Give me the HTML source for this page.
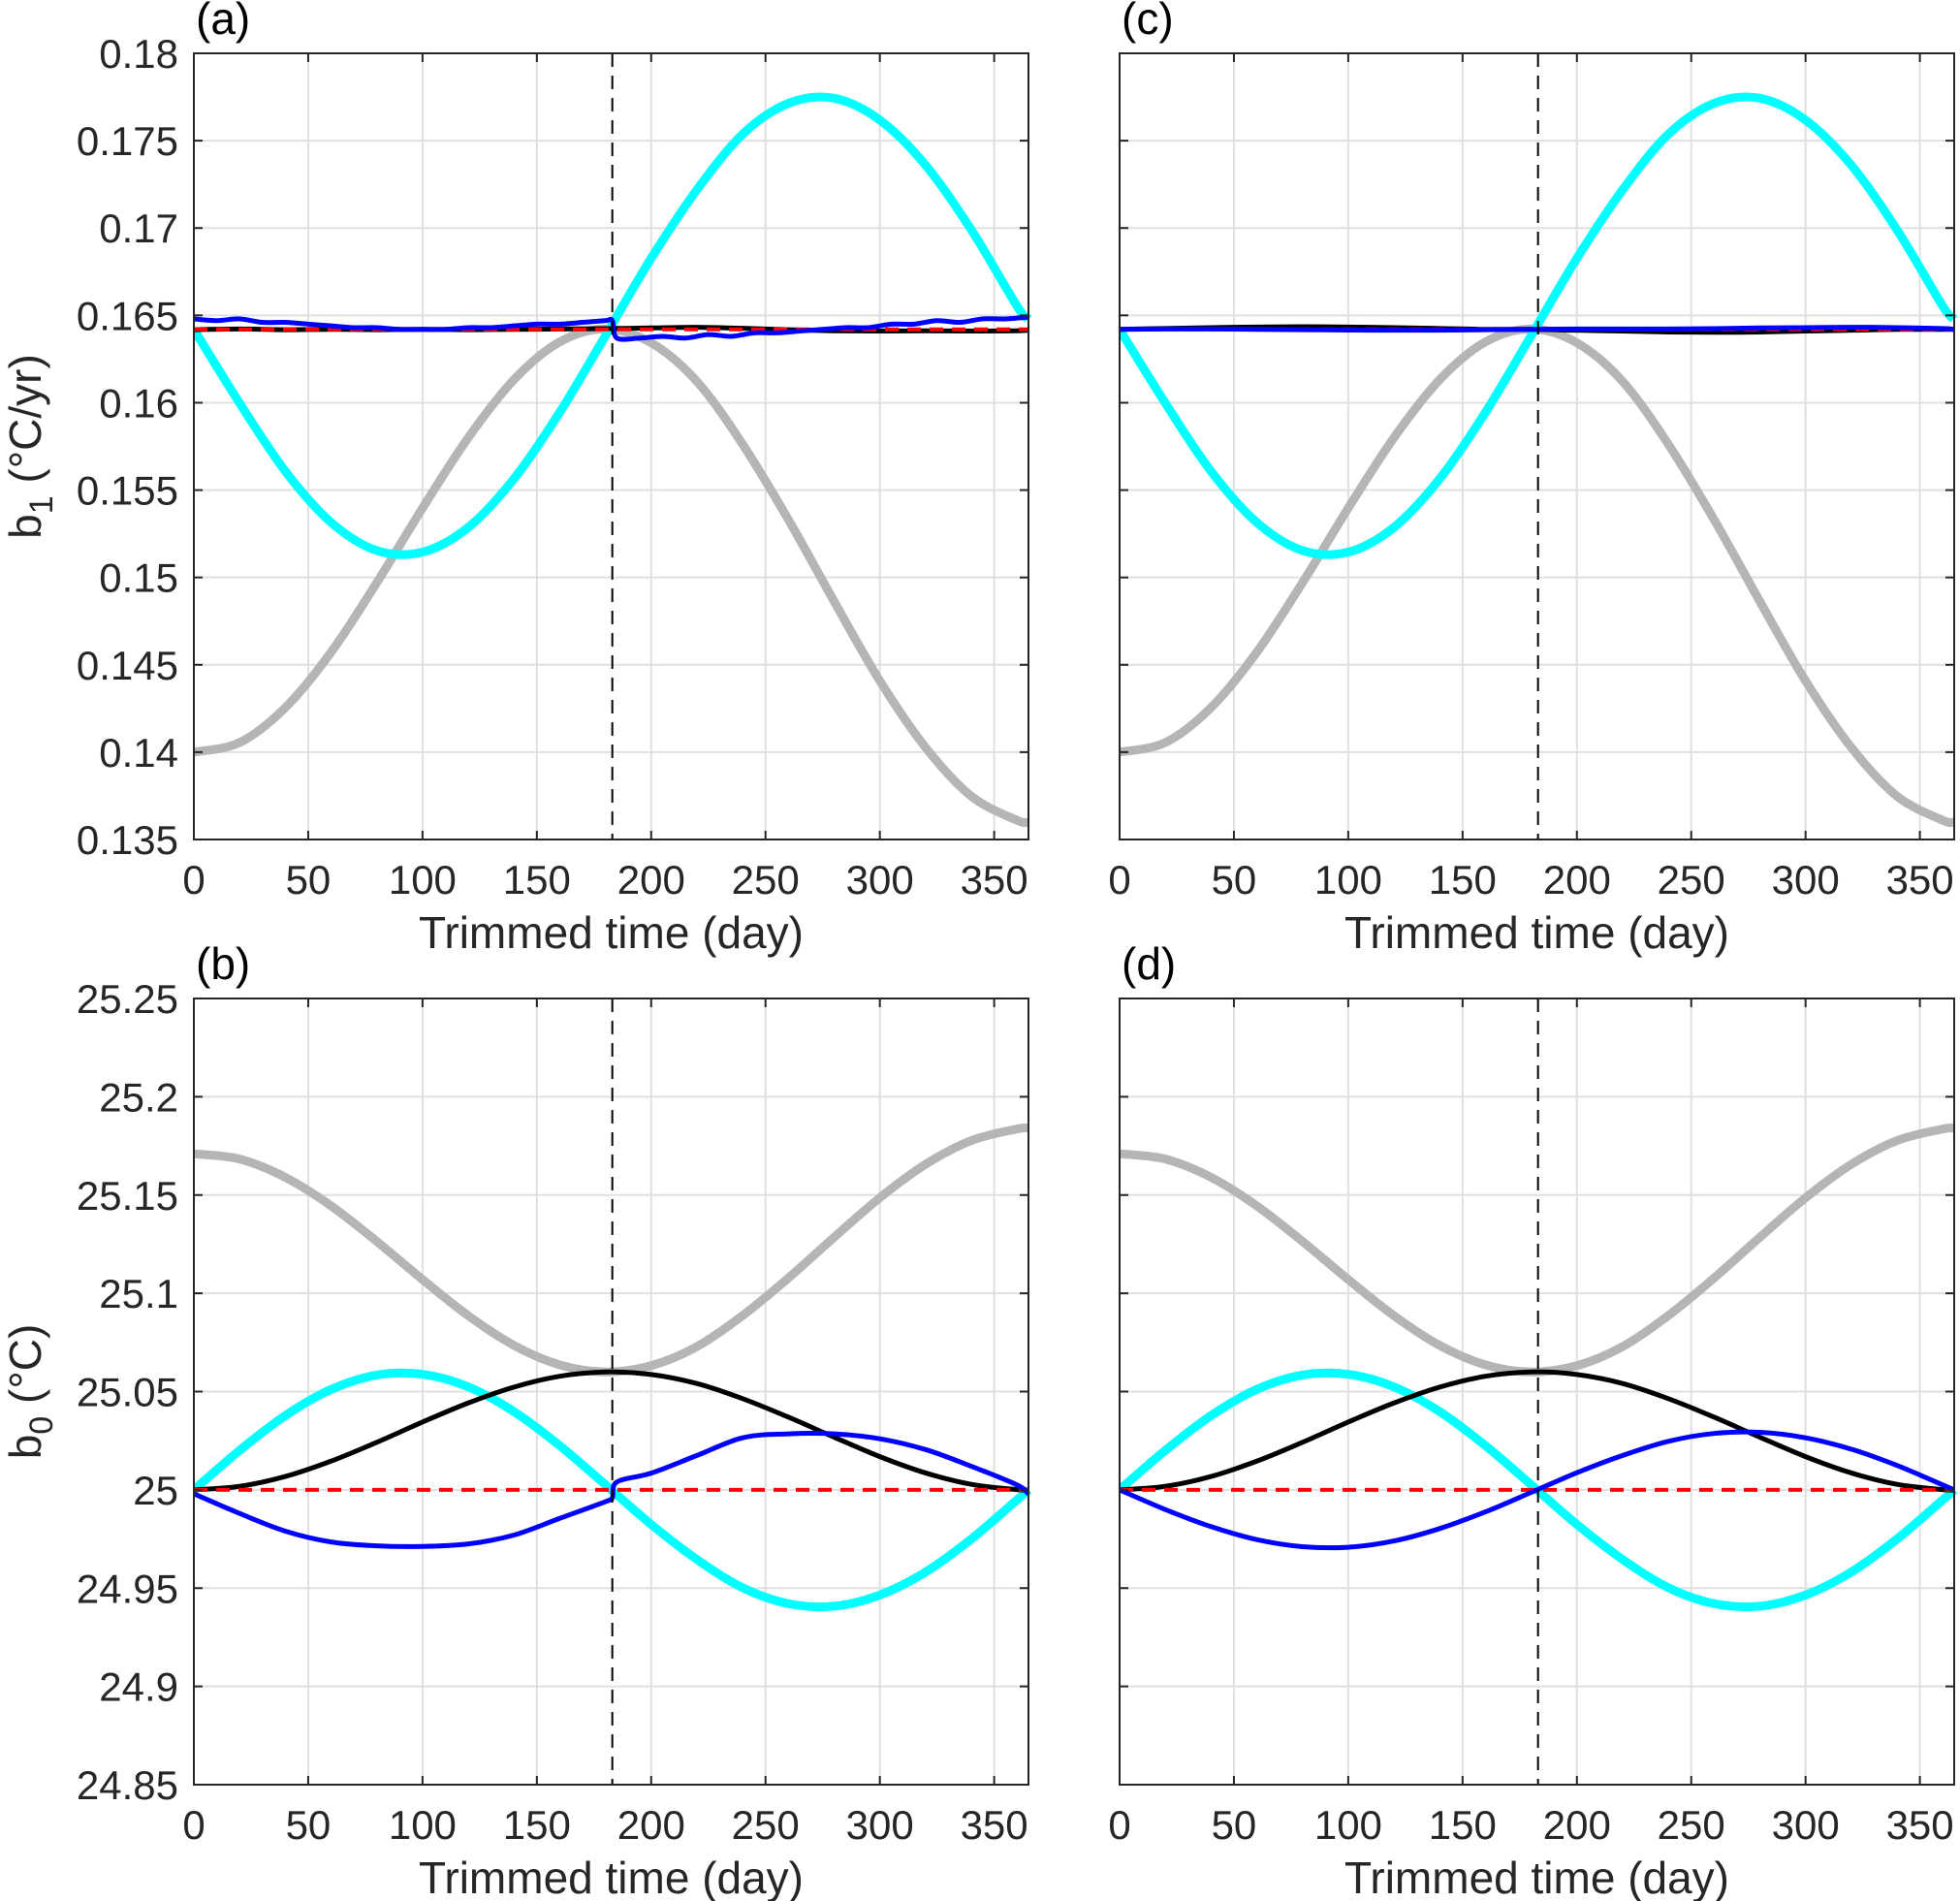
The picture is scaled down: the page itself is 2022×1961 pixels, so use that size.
<!DOCTYPE html>
<html><head><meta charset="utf-8"><style>
html,body{margin:0;padding:0;background:#fff;}
svg{display:block;font-family:"Liberation Sans",Arial,sans-serif;}
</style></head><body>
<svg id="fig" width="2022" height="1961" viewBox="0 0 2022 1961" xmlns="http://www.w3.org/2000/svg"></svg>
<script>
// ---- data ----
const days = [0,20,40,60,80,100,120,140,160,180,200,220,240,260,280,300,320,340,360,365];
const xTicks = [0,50,100,150,200,250,300,350];
const b1Ticks = [0.135,0.14,0.145,0.15,0.155,0.16,0.165,0.17,0.175,0.18];
const b1TickLabels = ["0.135","0.14","0.145","0.15","0.155","0.16","0.165","0.17","0.175","0.18"];
const b0Ticks = [24.85,24.9,24.95,25,25.05,25.1,25.15,25.2,25.25];
const b0TickLabels = ["24.85","24.9","24.95","25","25.05","25.1","25.15","25.2","25.25"];
const midDay = 183;

const grayB1 = [0.1400,0.14055,0.14255,0.14572,0.1497,0.15397,0.158,0.16132,0.16348,0.16422,0.16343,0.16122,0.15762,0.15331,0.14863,0.14408,0.14027,0.13748,0.1361,0.1360];
const cyanB1 = [0.1642,0.15998,0.15608,0.15315,0.15154,0.15145,0.15287,0.15565,0.15945,0.16384,0.16827,0.17219,0.17537,0.17714,0.17743,0.17618,0.1736,0.1699,0.16553,0.1648];
const redB1 = [0.1642,0.1642,0.1642,0.1642,0.1642,0.1642,0.1642,0.1642,0.1642,0.1642,0.1642,0.1642,0.1642,0.1642,0.1642,0.1642,0.1642,0.1642,0.1642,0.1642];
const blackB1a = [0.16418,0.16422,0.16418,0.16420,0.16418,0.16420,0.16418,0.16420,0.16422,0.16424,0.16428,0.16432,0.16426,0.16418,0.16412,0.16410,0.16412,0.16410,0.16412,0.16415];
const blueB1aDays = [0,10,20,30,40,50,60,70,80,90,100,110,120,130,140,150,160,170,180,183,185,195,205,215,225,235,245,255,265,275,285,295,305,315,325,335,345,355,365];
const blueB1a = [0.1648,0.1647,0.1648,0.1646,0.1646,0.1645,0.1644,0.1643,0.1643,0.1642,0.1642,0.1642,0.1643,0.1643,0.1644,0.1645,0.1645,0.1646,0.1647,0.1647,0.1637,0.1637,0.1638,0.1637,0.1639,0.1638,0.1640,0.1640,0.1641,0.1642,0.1643,0.1643,0.1645,0.1645,0.1647,0.1646,0.1648,0.1648,0.1649];
const blackB1c = [0.1642,0.16425,0.1643,0.16433,0.16435,0.16433,0.1643,0.16425,0.1642,0.1642,0.16415,0.1641,0.16405,0.16403,0.16405,0.1641,0.16415,0.1642,0.1642,0.1642];
const blueB1c = [0.1642,0.16422,0.16422,0.1642,0.16418,0.16416,0.16415,0.16415,0.16418,0.1642,0.16422,0.16422,0.16422,0.16424,0.16428,0.1643,0.16432,0.1643,0.16425,0.1642];

const grayB0 = [25.1710,25.1683,25.1590,25.1445,25.1264,25.1070,25.0886,25.0735,25.0636,25.0600,25.0632,25.0729,25.0887,25.1078,25.1285,25.1486,25.1656,25.1777,25.1836,25.1840];
const cyanB0 = [25.0,25.0201,25.0378,25.0511,25.0584,25.0588,25.0524,25.0398,25.0225,25.0026,24.9824,24.9646,24.9502,24.9421,24.9408,24.9465,24.9582,24.9750,24.9949,25.0];
const blackB0 = [25.0,25.0018,25.0068,25.0146,25.0242,25.0345,25.0442,25.0523,25.0578,25.0600,25.0587,25.0541,25.0464,25.0370,25.0268,25.0169,25.0086,25.0028,25.0001,25.0];
const redB0 = [25,25,25,25,25,25,25,25,25,25,25,25,25,25,25,25,25,25,25,25];
const blueB0bDays = [0,20,40,60,80,100,120,140,160,180,183,185,200,220,240,260,280,300,320,340,360,365];
const blueB0b = [24.998,24.988,24.979,24.9735,24.9715,24.9712,24.9725,24.977,24.9855,24.994,24.996,25.004,25.0085,25.0175,25.0265,25.0285,25.0285,25.0260,25.0205,25.0120,25.0025,24.998];
const blueB0d = [25.0,24.990,24.9813,24.9747,24.9711,24.9708,24.9740,24.9803,24.9888,24.9987,25.0087,25.0175,25.0247,25.0287,25.0293,25.0265,25.0207,25.0124,25.0025,25.0];

// ---- drawing ----
const NS = "http://www.w3.org/2000/svg";
const svg = document.getElementById("fig");
function mk(tag, attrs, parent){
  const e = document.createElementNS(NS, tag);
  for (const k in attrs) e.setAttribute(k, attrs[k]);
  (parent||svg).appendChild(e);
  return e;
}
function smoothPath(xs, ys){
  let d = "M"+xs[0].toFixed(2)+","+ys[0].toFixed(2);
  for (let i=0;i<xs.length-1;i++){
    const x0=xs[Math.max(i-1,0)], y0=ys[Math.max(i-1,0)];
    const x1=xs[i], y1=ys[i], x2=xs[i+1], y2=ys[i+1];
    const x3=xs[Math.min(i+2,xs.length-1)], y3=ys[Math.min(i+2,xs.length-1)];
    const c1x=x1+(x2-x0)/6, c1y=y1+(y2-y0)/6, c2x=x2-(x3-x1)/6, c2y=y2-(y3-y1)/6;
    d += " C"+c1x.toFixed(2)+","+c1y.toFixed(2)+" "+c2x.toFixed(2)+","+c2y.toFixed(2)+" "+x2.toFixed(2)+","+y2.toFixed(2);
  }
  return d;
}
function panel(cfg){
  const L=cfg.left, R=cfg.left+861, T=cfg.top, B=cfg.top+811;
  const g = mk("g", {});
  
  
  const sx = v => L + (v-0)/(365-0)*(R-L);
  const sy = v => B - (v-cfg.ymin)/(cfg.ymax-cfg.ymin)*(B-T);
  mk("rect",{x:L,y:T,width:R-L,height:B-T,fill:"#fff"},g);
  xTicks.forEach(t=>{
    const l = mk("line",{x1:sx(t),x2:sx(t),y1:T,y2:B,stroke:"#e0e0e0","stroke-width":2},g);
    
    
  });
  cfg.yticks.forEach(t=>{
    const l = mk("line",{x1:L,x2:R,y1:sy(t),y2:sy(t),stroke:"#e0e0e0","stroke-width":2},g);
    
    
  });
  const clip = mk("clipPath",{id:"clip-"+cfg.name},g);
  mk("rect",{x:L,y:T-6,width:R-L+6,height:B-T+12},clip);
  const data = mk("g",{"clip-path":"url(#clip-"+cfg.name+")"},g);
  cfg.series.forEach(s=>{
    const xs = (s.x||days).map(sx), ys = s.y.map(sy);
    const p = mk("path",{d:smoothPath(xs,ys),fill:"none",stroke:s.color,"stroke-width":s.w,"stroke-linejoin":"round","stroke-linecap":"butt"},data);
    if (s.dash) p.setAttribute("stroke-dasharray", s.dash);
    
    
  });
  const vl = mk("line",{x1:sx(midDay),x2:sx(midDay),y1:T,y2:B,stroke:"#000","stroke-width":2,"stroke-dasharray":"14,9"},g);
  
  
  const box = mk("rect",{x:L,y:T,width:R-L,height:B-T,fill:"none",stroke:"#262626","stroke-width":2},g);
  
  
  xTicks.forEach(t=>{
    mk("line",{x1:sx(t),x2:sx(t),y1:B,y2:B-9,stroke:"#262626","stroke-width":2},g);
    mk("line",{x1:sx(t),x2:sx(t),y1:T,y2:T+9,stroke:"#262626","stroke-width":2},g);
    const tx = mk("text",{x:sx(t),y:B+56,"font-size":42,"text-anchor":"middle",fill:"#262626"},g);
    tx.textContent = String(t);
    
    
  });
  cfg.yticks.forEach((t,i)=>{
    mk("line",{x1:L,x2:L+9,y1:sy(t),y2:sy(t),stroke:"#262626","stroke-width":2},g);
    mk("line",{x1:R,x2:R-9,y1:sy(t),y2:sy(t),stroke:"#262626","stroke-width":2},g);
    if (cfg.showY){
      const tx = mk("text",{x:L-16,y:sy(t)+15,"font-size":42,"text-anchor":"end",fill:"#262626"},g);
      tx.textContent = cfg.ylabels[i];
      
      
    }
  });
  const xl = mk("text",{x:(L+R)/2,y:B+112,"font-size":46,"text-anchor":"middle",fill:"#262626"},g);
  xl.textContent = "Trimmed time (day)";
  
  
  const pl = mk("text",{x:L+2,y:T-20,"font-size":46,fill:"#000"},g);
  pl.textContent = cfg.label;
  
  
  if (cfg.ytitle){
    const yt = mk("text",{x:0,y:0,"font-size":46,"text-anchor":"middle",fill:"#262626",transform:"translate(42,"+((T+B)/2)+") rotate(-90)"},g);
    
    
    const a = mk("tspan",{},yt); a.textContent = "b";
    const sub = mk("tspan",{"font-size":34,dy:12},yt); sub.textContent = cfg.ytitle[0];
    const rest = mk("tspan",{dy:-12},yt); rest.textContent = " " + cfg.ytitle[1];
  }
}
panel({name:"panel-a",label:"(a)",left:200,top:55,ymin:0.135,ymax:0.18,yticks:b1Ticks,ylabels:b1TickLabels,showY:true,ytitle:["1","(°C/yr)"],
  series:[{name:"gray-line",y:grayB1,color:"#b5b5b5",w:9},{name:"cyan-line",y:cyanB1,color:"#00ffff",w:9},
    {name:"black-line",y:blackB1a,color:"#000",w:5},{name:"red-dashed-line",y:redB1,color:"#ff0000",w:4,dash:"14,9"},
    {name:"blue-line",x:blueB1aDays,y:blueB1a,color:"#0000ff",w:5}]});
panel({name:"panel-c",label:"(c)",left:1155,top:55,ymin:0.135,ymax:0.18,yticks:b1Ticks,ylabels:b1TickLabels,showY:false,
  series:[{name:"gray-line",y:grayB1,color:"#b5b5b5",w:9},{name:"cyan-line",y:cyanB1,color:"#00ffff",w:9},
    {name:"black-line",y:blackB1c,color:"#000",w:5},{name:"red-dashed-line",y:redB1,color:"#ff0000",w:4,dash:"14,9"},
    {name:"blue-line",y:blueB1c,color:"#0000ff",w:5}]});
panel({name:"panel-b",label:"(b)",left:200,top:1030,ymin:24.85,ymax:25.25,yticks:b0Ticks,ylabels:b0TickLabels,showY:true,ytitle:["0","(°C)"],
  series:[{name:"gray-line",y:grayB0,color:"#b5b5b5",w:9},{name:"cyan-line",y:cyanB0,color:"#00ffff",w:9},
    {name:"black-line",y:blackB0,color:"#000",w:5},{name:"red-dashed-line",y:redB0,color:"#ff0000",w:4,dash:"14,9"},
    {name:"blue-line",x:blueB0bDays,y:blueB0b,color:"#0000ff",w:5}]});
panel({name:"panel-d",label:"(d)",left:1155,top:1030,ymin:24.85,ymax:25.25,yticks:b0Ticks,ylabels:b0TickLabels,showY:false,
  series:[{name:"gray-line",y:grayB0,color:"#b5b5b5",w:9},{name:"cyan-line",y:cyanB0,color:"#00ffff",w:9},
    {name:"black-line",y:blackB0,color:"#000",w:5},{name:"red-dashed-line",y:redB0,color:"#ff0000",w:4,dash:"14,9"},
    {name:"blue-line",y:blueB0d,color:"#0000ff",w:5}]});
</script>
</body></html>
